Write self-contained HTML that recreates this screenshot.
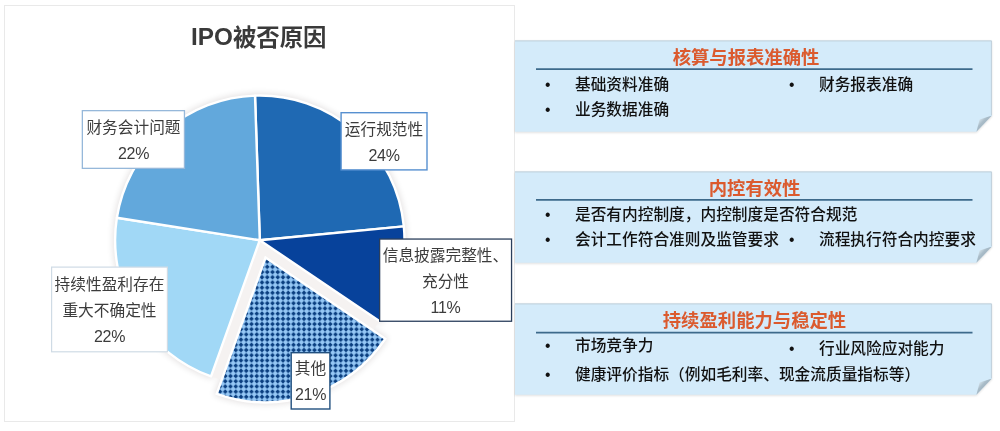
<!DOCTYPE html>
<html lang="zh-CN">
<head>
<meta charset="utf-8">
<title>IPO被否原因</title>
<style>
html,body{margin:0;padding:0;background:#fff;}
body{width:1000px;height:431px;position:relative;overflow:hidden;font-family:"Liberation Sans","Noto Sans CJK SC",sans-serif;color:#404040;}
.chart{position:absolute;left:4px;top:5px;width:509px;height:415px;border:1px solid #e9e9e9;box-sizing:content-box;}
.pie{position:absolute;left:0;top:0;}
.title{position:absolute;left:-0.7px;width:519px;top:19.5px;text-align:center;font-size:23.4px;font-weight:bold;line-height:36px;color:#3a3a3a;}
.lbl{position:absolute;box-sizing:border-box;text-align:center;font-size:15.7px;line-height:26px;color:#3c3c3c;white-space:nowrap;padding-top:4.2px;}
.lbl b{font-weight:normal;font-size:16px;letter-spacing:-0.3px;}
.panel{position:absolute;left:515px;width:477px;height:92px;}
.pbg{position:absolute;left:-4px;top:-4px;}
.phead{position:absolute;left:1px;width:100%;top:5px;text-align:center;font-size:18.35px;font-weight:bold;color:#db5a2e;line-height:26px;}
.it{position:absolute;font-size:15.7px;line-height:24px;color:#111;font-weight:500;white-space:nowrap;margin-top:0.4px;}
.it i{font-style:normal;position:absolute;left:-30px;top:0;}
</style>
</head>
<body>
<svg width="0" height="0" style="position:absolute"><defs><filter id="pb" x="-5%" y="-20%" width="110%" height="140%"><feGaussianBlur stdDeviation="0.8"/></filter><linearGradient id="fg" gradientUnits="userSpaceOnUse" x1="463" y1="78" x2="471" y2="85.5"><stop offset="0" stop-color="#e9f5fc"/><stop offset="0.55" stop-color="#a9bcc8"/><stop offset="1" stop-color="#9fb1be"/></linearGradient></defs></svg>
<div class="chart"></div>
<svg class="pie" width="520" height="431" viewBox="0 0 520 431">
<defs>
<pattern id="dots" x="2.125" y="-0.950" width="5.25" height="5.2" patternUnits="userSpaceOnUse">
<rect width="5.25" height="5.2" fill="#95c7f5"/>
<path d="M2.625,0.25 L4.975,2.6 L2.625,4.95 L0.2749999999999999,2.6 Z" fill="#0a3e80"/>
</pattern>
<filter id="sh" x="-10%" y="-10%" width="120%" height="120%"><feGaussianBlur stdDeviation="3"/></filter>
</defs>
<g filter="url(#sh)" opacity="0.11">
<path d="M259.80,240.20 L255.00,95.58 A144.7,144.7 0 0 1 403.83,226.33 Z" fill="#200" stroke="#200" stroke-width="5" stroke-linejoin="round"/>
<path d="M259.80,240.20 L403.83,226.33 A144.7,144.7 0 0 1 379.62,321.32 Z" fill="#200" stroke="#200" stroke-width="5" stroke-linejoin="round"/>
<path d="M265.49,257.59 L385.31,338.72 A144.7,144.7 0 0 1 216.71,393.83 Z" fill="#200" stroke="#200" stroke-width="5" stroke-linejoin="round"/>
<path d="M259.80,240.20 L211.02,376.43 A144.7,144.7 0 0 1 116.84,217.81 Z" fill="#200" stroke="#200" stroke-width="5" stroke-linejoin="round"/>
<path d="M259.80,240.20 L116.84,217.81 A144.7,144.7 0 0 1 255.00,95.58 Z" fill="#200" stroke="#200" stroke-width="5" stroke-linejoin="round"/>
</g>
<path d="M259.80,240.20 L379.62,321.32 A144.7,144.7 0 0 1 211.02,376.43 Z" fill="#f5f2f1"/>
<path d="M259.80,240.20 L255.00,95.58 A144.7,144.7 0 0 1 403.83,226.33 Z" fill="#1f69b3" stroke="#fff" stroke-width="2.4" stroke-linejoin="round"/>
<path d="M259.80,240.20 L403.83,226.33 A144.7,144.7 0 0 1 379.62,321.32 Z" fill="#07429b" stroke="#fff" stroke-width="2.4" stroke-linejoin="round"/>
<path d="M259.80,240.20 L211.02,376.43 A144.7,144.7 0 0 1 116.84,217.81 Z" fill="#a1d8f6" stroke="#fff" stroke-width="2.4" stroke-linejoin="round"/>
<path d="M259.80,240.20 L116.84,217.81 A144.7,144.7 0 0 1 255.00,95.58 Z" fill="#62a8dc" stroke="#fff" stroke-width="2.4" stroke-linejoin="round"/>
<path d="M265.49,257.59 L385.31,338.72 A144.7,144.7 0 0 1 216.71,393.83 Z" fill="url(#dots)" stroke="#fff" stroke-width="2.4" stroke-linejoin="miter"/>
<rect x="82.35" y="110.65" width="102.10" height="57.70" fill="#fff" stroke="#96b8da" stroke-width="1.3"/>
<rect x="341.10" y="112.70" width="85.90" height="57.20" fill="#fff" stroke="#5790d0" stroke-width="1.4"/>
<rect x="379.65" y="239.05" width="131.90" height="82.20" fill="#fff" stroke="#2b3f5c" stroke-width="1.3"/>
<rect x="51.60" y="267.10" width="115.80" height="84.70" fill="#fff" stroke="#cfdbe5" stroke-width="1.2"/>
<rect x="291.20" y="352.70" width="38.70" height="56.30" fill="#fff" stroke="#22507f" stroke-width="1.4"/>
</svg>
<div class="title"><span style="font-size:24.3px;position:relative;top:-0.7px">IPO</span>被否原因</div>

<div class="lbl" style="left:82px;top:110px;width:103px;height:59px;padding-top:5px;">财务会计问题<br><b>22%</b></div>
<div class="lbl" style="left:340px;top:112px;width:88px;height:58px;padding-top:4.6px;">运行规范性<br><b>24%</b></div>
<div class="lbl" style="left:379px;top:238px;width:133px;height:84px;padding-top:4.5px;">信息披露完整性、<br>充分性<br><b>11%</b></div>
<div class="lbl" style="left:51px;top:266px;width:117px;height:86px;padding-top:6.1px;">持续性盈利存在<br>重大不确定性<br><b>22%</b></div>
<div class="lbl" style="left:291px;top:352px;width:39px;height:58px;padding-top:3.7px;">其他<br><b>21%</b></div>

<div class="panel" style="top:40px;">
  <svg class="pbg" width="485" height="100" viewBox="-4 -4 485 100"><path d="M0,0.4 H476.9 V75.6 L461.4,91.8 H0 Z" fill="#000" opacity="0.13" transform="translate(0,0.9)" filter="url(#pb)"/><path d="M0,0.4 H476.9 V75.6 L461.4,91.8 H0 Z" fill="#d4ebfa"/><path d="M0,0.9 H476.4 V75" fill="none" stroke="#b9c6cf" stroke-width="1" opacity="0.75"/><path d="M476.9,75.6 L461.4,91.8 L464.6,79.4 Z" fill="url(#fg)"/><line x1="21" x2="457.5" y1="29.05" y2="29.05" stroke="#3d6a8b" stroke-width="1.7"/></svg>
  <div class="phead" style="left:-7.5px">核算与报表准确性</div>
  <div class="it" style="left:60px;top:33px;"><i>•</i>基础资料准确</div>
  <div class="it" style="left:304px;top:33px;"><i>•</i>财务报表准确</div>
  <div class="it" style="left:60px;top:58px;"><i>•</i>业务数据准确</div>
</div>
<div class="panel" style="top:171px;">
  <svg class="pbg" width="485" height="100" viewBox="-4 -4 485 100"><path d="M0,0.4 H476.9 V75.6 L461.4,91.8 H0 Z" fill="#000" opacity="0.13" transform="translate(0,0.9)" filter="url(#pb)"/><path d="M0,0.4 H476.9 V75.6 L461.4,91.8 H0 Z" fill="#d4ebfa"/><path d="M0,0.9 H476.4 V75" fill="none" stroke="#b9c6cf" stroke-width="1" opacity="0.75"/><path d="M476.9,75.6 L461.4,91.8 L464.6,79.4 Z" fill="url(#fg)"/><line x1="21" x2="457.5" y1="28.8" y2="28.8" stroke="#3d6a8b" stroke-width="1.7"/></svg>
  <div class="phead">内控有效性</div>
  <div class="it" style="left:60px;top:31.6px;"><i>•</i>是否有内控制度，内控制度是否符合规范</div>
  <div class="it" style="left:60px;top:57px;"><i>•</i>会计工作符合准则及监管要求</div>
  <div class="it" style="left:304px;top:57px;"><i>•</i>流程执行符合内控要求</div>
</div>
<div class="panel" style="top:302.7px;">
  <svg class="pbg" width="485" height="100" viewBox="-4 -4 485 100"><path d="M0,0.4 H476.9 V75.6 L461.4,91.8 H0 Z" fill="#000" opacity="0.13" transform="translate(0,0.9)" filter="url(#pb)"/><path d="M0,0.4 H476.9 V75.6 L461.4,91.8 H0 Z" fill="#d4ebfa"/><path d="M0,0.9 H476.4 V75" fill="none" stroke="#b9c6cf" stroke-width="1" opacity="0.75"/><path d="M476.9,75.6 L461.4,91.8 L464.6,79.4 Z" fill="url(#fg)"/><line x1="21" x2="457.5" y1="29.6" y2="29.6" stroke="#3d6a8b" stroke-width="1.6"/></svg>
  <div class="phead">持续盈利能力与稳定性</div>
  <div class="it" style="left:60px;top:31.4px;"><i>•</i>市场竞争力</div>
  <div class="it" style="left:304px;top:34.3px;"><i>•</i>行业风险应对能力</div>
  <div class="it" style="left:60px;top:59.5px;"><i>•</i>健康评价指标（例如毛利率、现金流质量指标等）</div>
</div>
</body>
</html>
